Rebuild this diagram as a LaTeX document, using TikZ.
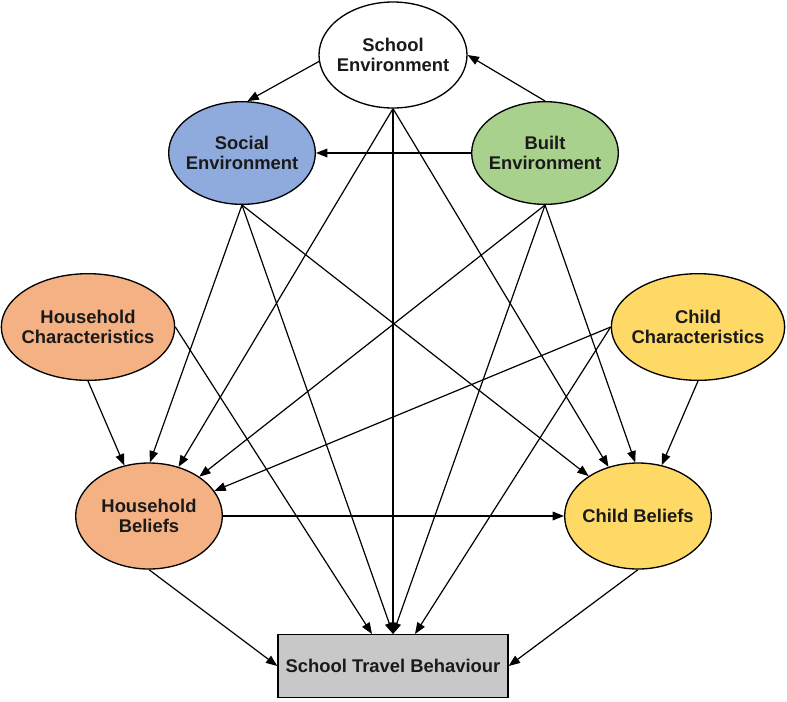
\documentclass[tikz,border=0pt]{standalone}
\usepackage{fontspec}
\setmainfont{Liberation Sans}
\usetikzlibrary{shapes.geometric,arrows.meta,calc}
\definecolor{txt}{HTML}{1A1A1A}
\definecolor{socialc}{HTML}{8FAADC}
\definecolor{builtc}{HTML}{A9D18E}
\definecolor{housec}{HTML}{F4B183}
\definecolor{childc}{HTML}{FFD966}
\definecolor{stbc}{HTML}{C8C8C8}
\tikzset{
  ell/.style={ellipse, draw=black, line width=1pt, inner sep=0pt},
  lbl/.style={align=center, text=txt, font=\fontsize{13.8}{15.3}\selectfont\bfseries, inner sep=0pt},
  arr/.style={draw=black, line width=0.9pt, -{Triangle[length=8.5pt,width=6.5pt]}}
}
\begin{document}
\begin{tikzpicture}[x=0.75pt,y=-0.75pt]
\useasboundingbox (0,0) rectangle (787,701);
% ellipses
\node[ell, fill=white, minimum width=111pt, minimum height=79.5pt] (school) at (393,55) {};
\node[ell, fill=socialc, minimum width=110pt, minimum height=77pt] (social) at (242,153) {};
\node[ell, fill=builtc, minimum width=110pt, minimum height=77pt] (built) at (545,153) {};
\node[ell, fill=housec, minimum width=130pt, minimum height=80pt] (hc) at (88,327) {};
\node[ell, fill=childc, minimum width=130pt, minimum height=80pt] (cc) at (698,327) {};
\node[ell, fill=housec, minimum width=110pt, minimum height=79.5pt] (hb) at (149,516) {};
\node[ell, fill=childc, minimum width=110pt, minimum height=79.5pt] (cb) at (638,516) {};
\node[draw=black, line width=1pt, fill=stbc, minimum width=172.5pt, minimum height=47pt, inner sep=0pt] (stb) at (393,666) {};
% labels
\node[lbl] (schoolt) at (school) {School\\Environment};
\node[lbl] (socialt) at (social) {Social\\Environment};
\node[lbl] (builtt) at (built) {Built\\Environment};
\node[lbl] (hct) at (hc) {Household\\Characteristics};
\node[lbl] (cct) at (cc) {Child\\Characteristics};
\node[lbl] (hbt) at (hb) {Household\\Beliefs};
\node[lbl] (cbt) at (cb) {Child Beliefs};
\node[lbl] (stbt) at (stb) {School Travel Behaviour};
% STB entry points
\coordinate (stbL) at ($(stb.north)+(-21,0)$);
\coordinate (stbR) at ($(stb.north)+(22,0)$);
% top edges
\draw[arr] (school.185) -- (social.84);
\draw[arr] (built.north) -- (school.east);
\draw[arr] (built.west) -- (social.east);
% from school
\draw[arr] (school.south) -- (hb.59);
\draw[arr] (school.south) -- (stb.north);
\draw[arr] (school.south) -- (cb.121);
% from social
\draw[arr] (social.south) -- (hb.89);
\draw[arr] (social.south) -- (stb.north);
\draw[arr] (social.south) -- (cb.141);
% from built
\draw[arr] (built.south) -- (hb.38);
\draw[arr] (built.south) -- (stb.north);
\draw[arr] (built.south) -- (cb.93);
% household characteristics
\draw[arr] (hc.south) -- (hb.116);
\draw[arr] (hc.east) -- (stbL);
% child characteristics
\draw[arr] (cc.west) -- (hb.21);
\draw[arr] (cc.west) -- (stbR);
\draw[arr] (cc.south) -- (cb.65);
% beliefs
\draw[arr] (hb.east) -- (cb.west);
\draw[arr] (hb.south) -- (stb.west);
\draw[arr] (cb.south) -- (stb.east);
\end{tikzpicture}
\end{document}
